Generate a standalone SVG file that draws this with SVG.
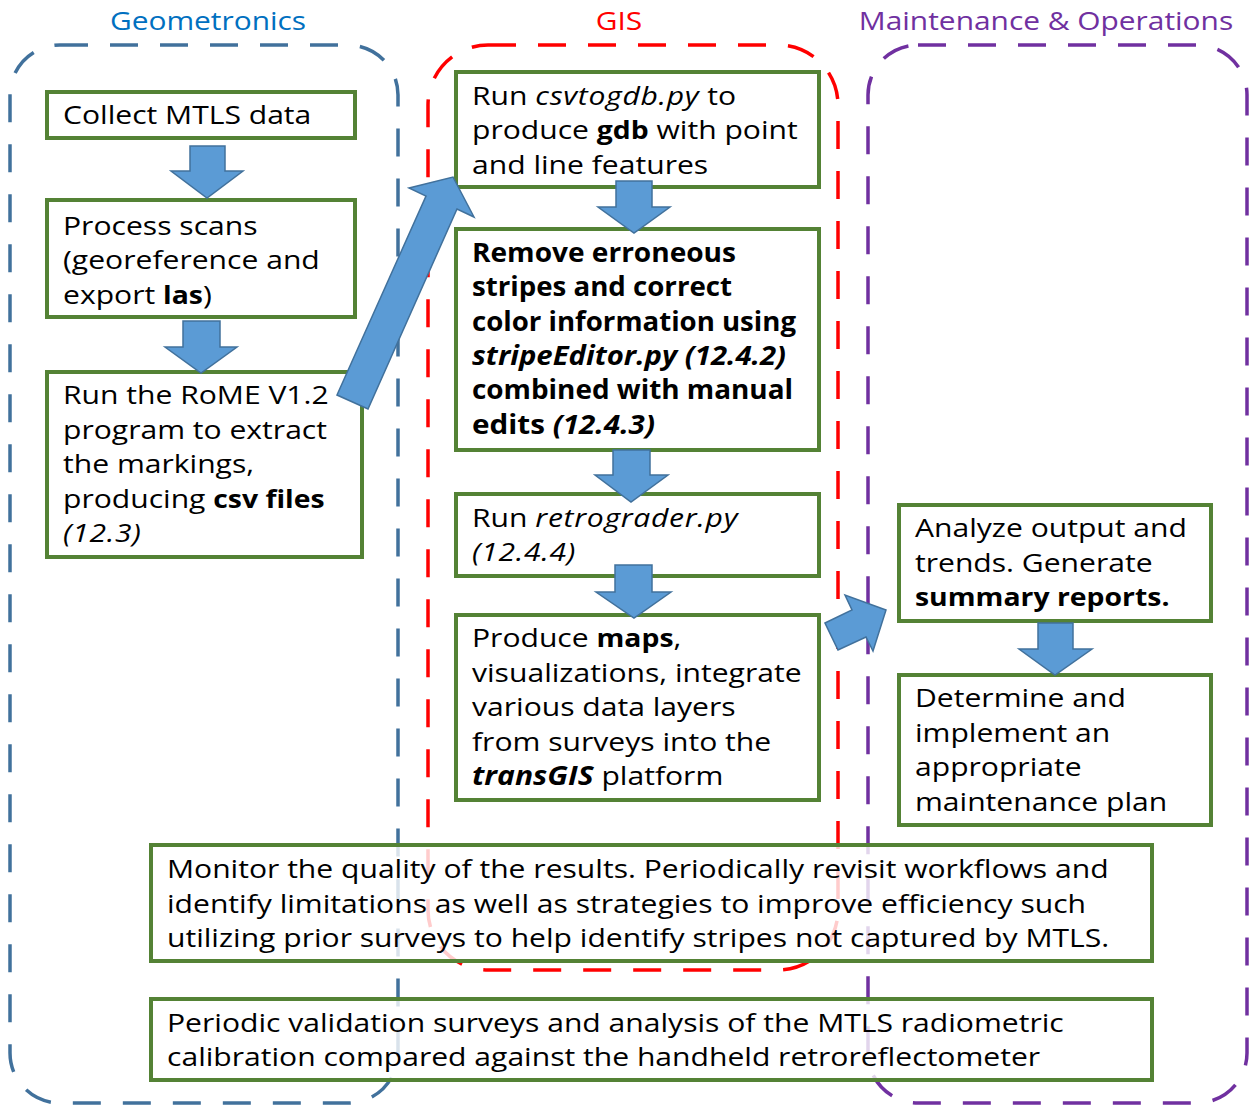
<svg xmlns="http://www.w3.org/2000/svg" width="1249" height="1105" viewBox="0 0 1249 1105">
  <style>
    .lane { fill: none; stroke-width: 3.5; stroke-dasharray: 28 22; }
    .box { fill: #ffffff; stroke: #548235; stroke-width: 4; }
    .box.soft { fill-opacity: 0.8; }
    .arrow { fill: #5B9BD5; stroke: #41719C; stroke-width: 1.5; stroke-linejoin: miter; }
    .t { font-family: "Open Sans", "DejaVu Sans", sans-serif; font-size: 26px; fill: #000000; }
    .hd { font-family: "Open Sans", "DejaVu Sans", sans-serif; font-size: 26px; text-anchor: middle; }
    .b { font-weight: bold; font-size: 24.5px; }
    .bb { font-weight: bold; }
    .i { font-style: italic; letter-spacing: 0.6px; }
    .bi { font-weight: bold; font-style: italic; }
  </style>

  <!-- swimlane headers -->
  <g id="headers">
    <text class="hd" x="208" y="30" fill="#0070C0" transform="matrix(1.15 0 0 1 -31.2 0)">Geometronics</text>
    <text class="hd" x="619" y="30" fill="#FF0000" transform="matrix(1.15 0 0 1 -92.85 0)">GIS</text>
    <text class="hd" x="1046" y="30" fill="#7030A0" transform="matrix(1.15 0 0 1 -156.9 0)">Maintenance &amp; Operations</text>
  </g>

  <!-- swimlanes -->
  <g id="lanes">
    <rect id="lane-geometronics" class="lane" x="10" y="45" width="388" height="1058" rx="50" ry="50" stroke="#41719C"/>
    <rect id="lane-gis" class="lane" x="428" y="45" width="410" height="925" rx="60" ry="60" stroke="#FF0000"/>
    <rect id="lane-mo" class="lane" x="868" y="45" width="379" height="1058" rx="50" ry="50" stroke="#7030A0"/>
  </g>

  <!-- process steps -->
  <g id="collect">
    <rect class="box" x="47" y="92" width="308" height="46"/>
    <text class="t" transform="matrix(1.158 0 0 1 63 0)"><tspan x="0" y="124">Collect MTLS data</tspan></text>
  </g>

  <g id="process">
    <rect class="box" x="47" y="200" width="308" height="117"/>
    <text class="t" transform="matrix(1.158 0 0 1 63 0)">
      <tspan x="0" y="235">Process scans</tspan>
      <tspan x="0" y="269">(georeference and</tspan>
      <tspan x="0" y="304">export <tspan class="b">las</tspan>)</tspan>
    </text>
  </g>

  <g id="rome">
    <rect class="box" x="47" y="372" width="315" height="185"/>
    <text class="t" transform="matrix(1.158 0 0 1 63 0)">
      <tspan x="0" y="404">Run the RoME V1.2</tspan>
      <tspan x="0" y="439">program to extract</tspan>
      <tspan x="0" y="473">the markings,</tspan>
      <tspan x="0" y="508">producing <tspan class="b">csv files</tspan></tspan>
      <tspan x="0" y="542" class="i">(12.3)</tspan>
    </text>
  </g>

  <g id="csvtogdb">
    <rect class="box" x="456" y="72" width="363" height="115"/>
    <text class="t" transform="matrix(1.158 0 0 1 472 0)">
      <tspan x="0" y="105">Run <tspan class="i">csvtogdb.py</tspan> to</tspan>
      <tspan x="0" y="139">produce <tspan class="b">gdb</tspan> with point</tspan>
      <tspan x="0" y="174">and line features</tspan>
    </text>
  </g>

  <g id="remove-stripes">
    <rect class="box" x="456" y="229" width="363" height="221"/>
    <text class="t bb">
      <tspan x="472" y="262" textLength="264" lengthAdjust="spacingAndGlyphs">Remove erroneous</tspan>
      <tspan x="472" y="296" textLength="260" lengthAdjust="spacingAndGlyphs">stripes and correct</tspan>
      <tspan x="472" y="331" textLength="324" lengthAdjust="spacingAndGlyphs">color information using</tspan>
      <tspan x="472" y="365" textLength="314" lengthAdjust="spacingAndGlyphs" font-style="italic">stripeEditor.py (12.4.2)</tspan>
      <tspan x="472" y="399" textLength="321" lengthAdjust="spacingAndGlyphs">combined with manual</tspan>
      <tspan x="472" y="434" textLength="183" lengthAdjust="spacingAndGlyphs">edits <tspan font-style="italic">(12.4.3)</tspan></tspan>
    </text>
  </g>

  <g id="retrograder">
    <rect class="box" x="456" y="494" width="363" height="82"/>
    <text class="t" transform="matrix(1.158 0 0 1 472 0)">
      <tspan x="0" y="527">Run <tspan class="i">retrograder.py</tspan></tspan>
      <tspan x="0" y="561" class="i">(12.4.4)</tspan>
    </text>
  </g>

  <g id="produce-maps">
    <rect class="box" x="456" y="615" width="363" height="185"/>
    <text class="t" transform="matrix(1.158 0 0 1 472 0)">
      <tspan x="0" y="647">Produce <tspan class="b">maps</tspan>,</tspan>
      <tspan x="0" y="682">visualizations, integrate</tspan>
      <tspan x="0" y="716">various data layers</tspan>
      <tspan x="0" y="751">from surveys into the</tspan>
      <tspan x="0" y="785"><tspan class="bi">transGIS</tspan> platform</tspan>
    </text>
  </g>

  <g id="analyze">
    <rect class="box" x="899" y="505" width="312" height="116"/>
    <text class="t" transform="matrix(1.158 0 0 1 915 0)">
      <tspan x="0" y="537">Analyze output and</tspan>
      <tspan x="0" y="572">trends. Generate</tspan>
      <tspan x="0" y="606" class="b">summary reports.</tspan>
    </text>
  </g>

  <g id="maintenance-plan">
    <rect class="box" x="899" y="675" width="312" height="150"/>
    <text class="t" transform="matrix(1.158 0 0 1 915 0)">
      <tspan x="0" y="707">Determine and</tspan>
      <tspan x="0" y="742">implement an</tspan>
      <tspan x="0" y="776">appropriate</tspan>
      <tspan x="0" y="811">maintenance plan</tspan>
    </text>
  </g>

  <g id="monitor">
    <rect class="box soft" x="151" y="845" width="1001" height="116"/>
    <text class="t" transform="matrix(1.158 0 0 1 167 0)">
      <tspan x="0" y="878">Monitor the quality of the results. Periodically revisit workflows and</tspan>
      <tspan x="0" y="913">identify limitations as well as strategies to improve efficiency such</tspan>
      <tspan x="0" y="947">utilizing prior surveys to help identify stripes not captured by MTLS.</tspan>
    </text>
  </g>

  <g id="validation">
    <rect class="box soft" x="151" y="999" width="1001" height="81"/>
    <text class="t" transform="matrix(1.158 0 0 1 167 0)">
      <tspan x="0" y="1032">Periodic validation surveys and analysis of the MTLS radiometric</tspan>
      <tspan x="0" y="1066">calibration compared against the handheld retroreflectometer</tspan>
    </text>
  </g>

  <!-- block arrows between steps -->
  <g id="connectors">
    <polygon class="arrow" points="190,146 225,146 225,171 243,171 207,198 171,171 190,171"/>
    <polygon class="arrow" points="183,321 220,321 220,347 237,347 201,373 165,347 183,347"/>
    <polygon class="arrow" points="337,395 426,196 409,188 453,177 474,217 457,209 368,409"/>
    <polygon class="arrow" points="616,181 652,181 652,207 670,207 634,233 598,207 616,207"/>
    <polygon class="arrow" points="613,450 650,450 650,475 668,475 631,502 595,475 613,475"/>
    <polygon class="arrow" points="615,565 652,565 652,592 671,592 634,618 596,592 615,592"/>
    <polygon class="arrow" points="825,623 852,610 845,595 886,610 873,651 866,637 838,650"/>
    <polygon class="arrow" points="1038,623 1073,623 1073,649 1092,649 1055,675 1019,649 1038,649"/>
  </g>
</svg>
